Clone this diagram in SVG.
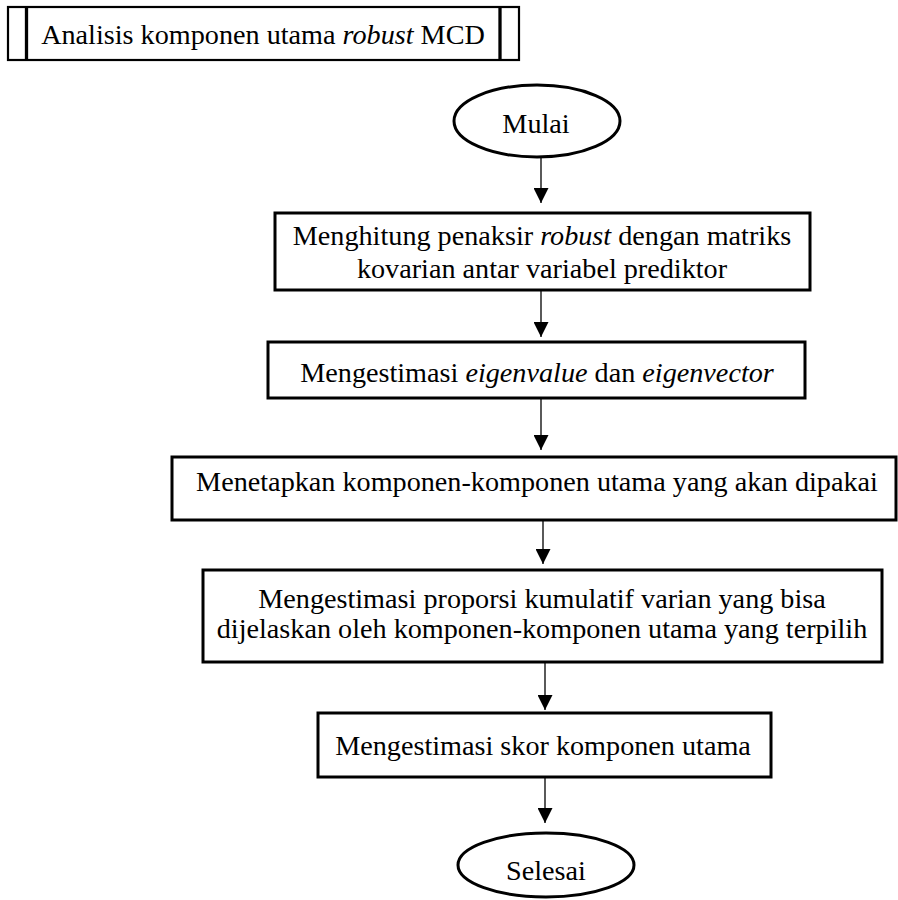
<svg xmlns="http://www.w3.org/2000/svg" width="898" height="900" viewBox="0 0 898 900">
<defs>
<marker id="ah" markerWidth="15" markerHeight="15" refX="15" refY="7.5" orient="auto" markerUnits="userSpaceOnUse">
<path d="M0,0 L15,7.5 L0,15 Z" fill="#000"/>
</marker>
<style>
text{font-family:"Liberation Serif","Times New Roman",serif;font-size:28.2px;fill:#000;text-anchor:middle}
.i{font-style:italic}
.box{fill:#fff;stroke:#000;stroke-width:3}
.conn line{stroke:#000;stroke-width:1.3;marker-end:url(#ah)}
</style>
</defs>
<rect width="898" height="900" fill="#fff"/>
<g id="title">
<rect x="8" y="7" width="511" height="53" fill="#fff" stroke="#000" stroke-width="2.2"/>
<line x1="26.5" y1="7" x2="26.5" y2="60" stroke="#000" stroke-width="3.3"/>
<line x1="500" y1="7" x2="500" y2="60" stroke="#000" stroke-width="3.3"/>
<text x="263" y="44">Analisis komponen utama <tspan class="i">robust</tspan> MCD</text>
</g>
<g id="mulai">
<ellipse class="box" cx="537" cy="121" rx="83" ry="36"/>
<text x="536" y="133">Mulai</text>
</g>
<g id="step1">
<rect class="box" x="275" y="213" width="535" height="77"/>
<text x="542" y="245">Menghitung penaksir <tspan class="i">robust</tspan> dengan matriks</text>
<text x="542" y="278">kovarian antar variabel prediktor</text>
</g>
<g id="step2">
<rect class="box" x="268" y="342" width="537" height="56"/>
<text x="537" y="382">Mengestimasi <tspan class="i">eigenvalue</tspan> dan <tspan class="i">eigenvector</tspan></text>
</g>
<g id="step3">
<rect class="box" x="172" y="457" width="724" height="63"/>
<text x="537" y="491">Menetapkan komponen-komponen utama yang akan dipakai</text>
</g>
<g id="step4">
<rect class="box" x="203" y="570" width="679" height="92"/>
<text x="542" y="608">Mengestimasi proporsi kumulatif varian yang bisa</text>
<text x="542" y="638">dijelaskan oleh komponen-komponen utama yang terpilih</text>
</g>
<g id="step5">
<rect class="box" x="318" y="713" width="453" height="64"/>
<text x="543" y="755">Mengestimasi skor komponen utama</text>
</g>
<g id="selesai">
<ellipse class="box" cx="546" cy="865" rx="88" ry="32"/>
<text x="546" y="880">Selesai</text>
</g>
<g id="connectors" class="conn">
<line x1="541" y1="158" x2="541" y2="203"/>
<line x1="541" y1="291" x2="541" y2="337"/>
<line x1="541" y1="399" x2="541" y2="450"/>
<line x1="543" y1="521" x2="543" y2="564"/>
<line x1="545" y1="663" x2="545" y2="710"/>
<line x1="545" y1="778" x2="545" y2="823"/>
</g>
</svg>
